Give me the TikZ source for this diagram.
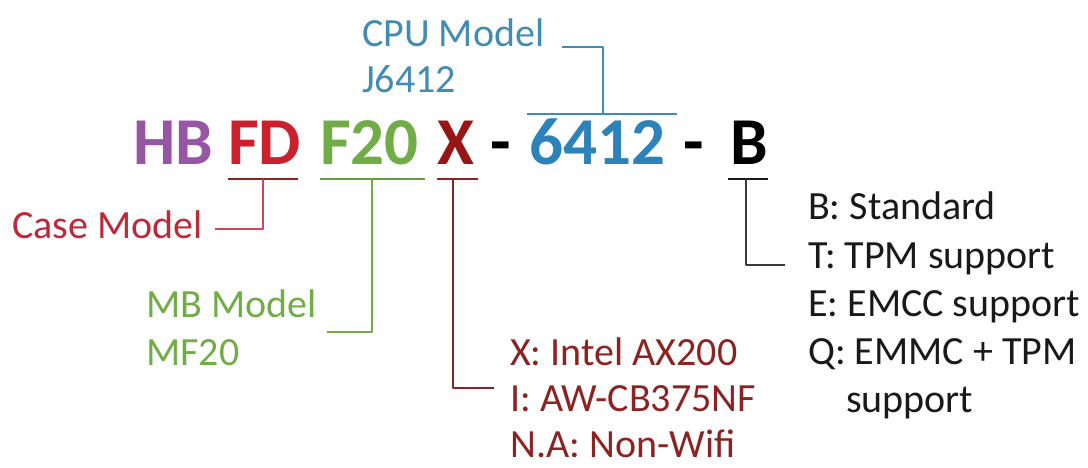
\documentclass[tikz,border=0pt]{standalone}
\usepackage{fontspec}
\setmainfont{Carlito}
\definecolor{hbpurple}{RGB}{150,85,165}
\definecolor{fdred}{RGB}{205,32,45}
\definecolor{mbgreen}{RGB}{112,173,71}
\definecolor{wifired}{RGB}{150,22,22}
\definecolor{cpublue}{RGB}{45,130,185}
\definecolor{cpulight}{RGB}{65,140,178}
\definecolor{casered}{RGB}{190,40,55}
\definecolor{wifitxt}{RGB}{140,35,35}
\definecolor{optgray}{RGB}{25,25,25}
\tikzset{
  code/.style={font=\fontsize{67}{80}\selectfont\bfseries, anchor=base west, inner sep=0pt},
  lbl/.style={font=\fontsize{40}{48}\selectfont, anchor=base west, inner sep=0pt},
  uline/.style={line width=1.5pt},
  conn/.style={line width=1.2pt}
}
\begin{document}
\begin{tikzpicture}[x=1pt,y=-1pt,line join=round]
  \useasboundingbox (0,0) rectangle (1088,468);
  % part number
  \node[code,text=hbpurple] (hb) at (133,165) {HB};
  \node[code,text=fdred] (fd) at (228,165) {FD};
  \node[code,text=mbgreen] (f20) at (320,165) {F20};
  \node[code,text=wifired] (wx) at (437,165) {X};
  \node[code,text=black] (dashA) at (490,165) {-};
  \node[code,text=cpublue] (cpu) at (529,165) {6412};
  \node[code,text=black] (dashB) at (683,165) {-};
  \node[code,text=black] (bb) at (730,165) {B};
  % labels
  \node[lbl,text=cpulight] (cpu1) at (362,47) {CPU Model};
  \node[lbl,text=cpulight] (cpu2) at (362,93) {J6412};
  \node[lbl,text=casered] (case) at (12,238) {Case Model};
  \node[lbl,text=mbgreen] (mb1) at (146,317) {MB Model};
  \node[lbl,text=mbgreen] (mb2) at (146,365) {MF20};
  \node[lbl,text=wifitxt] (x1) at (510,365) {X: Intel AX200};
  \node[lbl,text=wifitxt] (x2) at (510,411) {I: AW-CB375NF};
  \node[lbl,text=wifitxt] (x3) at (510,457) {N.A: Non-Wifi};
  \foreach \n/\y/\t in {b1/220/B: Standard,b2/268/T: TPM support,b3/316/E: EMCC support,b4/364/Q: EMMC + TPM}
    \node[lbl,text=optgray] (\n) at (808,\y) {\t};
  \node[lbl,text=optgray] (b5) at (846,412) {support};
  % bars and leaders
  \coordinate (cpuL) at (527,114); \coordinate (cpuR) at (677,114); \coordinate (cpuM) at (603,114);
  \coordinate (fdL) at (228,179); \coordinate (fdR) at (298,179); \coordinate (fdM) at (263,179);
  \coordinate (f20L) at (320,179); \coordinate (f20R) at (425,179); \coordinate (f20M) at (372,179);
  \coordinate (wxL) at (437,179); \coordinate (wxR) at (478,179); \coordinate (wxM) at (453,179);
  \coordinate (bbL) at (728,179); \coordinate (bbR) at (768,179); \coordinate (bbM) at (746,179);
  \coordinate (mbEnd) at (327,332);
  \coordinate (wxEnd) at (494,388);
  \coordinate (bbEnd) at (785,265);
  \draw[uline,cpulight] (cpuL)--(cpuR);
  \draw[conn,cpulight] (cpuM) |- ([xshift=18pt]cpu1.base east);
  \draw[uline,wifitxt] (fdL)--(fdR);
  \draw[conn,casered!85] (fdM) |- ([xshift=12pt,yshift=9pt]case.base east);
  \draw[uline,mbgreen!90!black] (f20L)--(f20R);
  \draw[conn,mbgreen] (f20M) |- (mbEnd);
  \draw[uline,wifitxt] (wxL)--(wxR);
  \draw[conn,wifitxt] (wxM) |- (wxEnd);
  \draw[uline,optgray] (bbL)--(bbR);
  \draw[conn,optgray!85] (bbM) |- (bbEnd);
\end{tikzpicture}
\end{document}
